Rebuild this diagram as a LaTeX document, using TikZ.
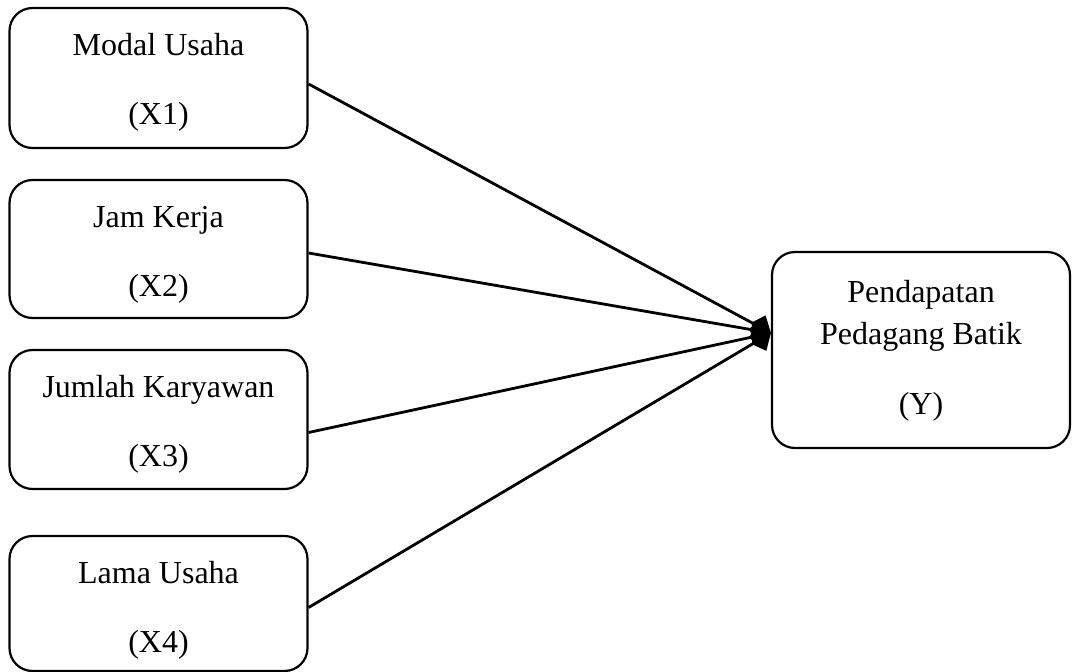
\documentclass[tikz,border=0pt]{standalone}
\usepackage{fontspec}
\setmainfont{Liberation Serif}
\usetikzlibrary{arrows.meta,calc}
\begin{document}
\begin{tikzpicture}[x=1pt,y=-1pt,
  box/.style={draw,line width=2.2pt,rounded corners=23pt,minimum width=298pt,inner sep=0pt},
  txt/.style={anchor=base,inner sep=0pt,font=\fontsize{32}{38}\selectfont},
  link/.style={line width=2.8pt,-{Kite[length=22pt,width=26pt,inset=9pt]}}]
\useasboundingbox (0,0) rectangle (1072,672);
\node[box,minimum height=140pt] (x1) at (158.5,78) {};
\node[box,minimum height=138pt] (x2) at (158.5,249) {};
\node[box,minimum height=139pt] (x3) at (158.5,419.5) {};
\node[box,minimum height=135pt] (x4) at (158.5,603.5) {};
\node[box,minimum height=196pt] (y) at (921,350) {};
\node[txt] (t1a) at (158.5,55) {Modal Usaha};
\node[txt] (t1b) at (158.5,124) {(X1)};
\node[txt] (t2a) at (158.5,227) {Jam Kerja};
\node[txt] (t2b) at (158.5,296) {(X2)};
\node[txt] (t3a) at (158.5,397) {Jumlah Karyawan};
\node[txt] (t3b) at (158.5,466) {(X3)};
\node[txt] (t4a) at (158.5,583) {Lama Usaha};
\node[txt] (t4b) at (158.5,652) {(X4)};
\node[txt] (tya) at (921,302) {Pendapatan};
\node[txt] (tyb) at (921,344) {Pedagang Batik};
\node[txt] (tyc) at (921,414) {(Y)};
\coordinate (tip) at ($(y.west)+(0,-17)$);
\draw[link] ($(x1.east)+(0,6)$) -- (tip);
\draw[link] ($(x2.east)+(0,4)$) -- (tip);
\draw[link] ($(x3.east)+(0,13)$) -- (tip);
\draw[link] ($(x4.east)+(0,4)$) -- (tip);
\end{tikzpicture}
\end{document}
